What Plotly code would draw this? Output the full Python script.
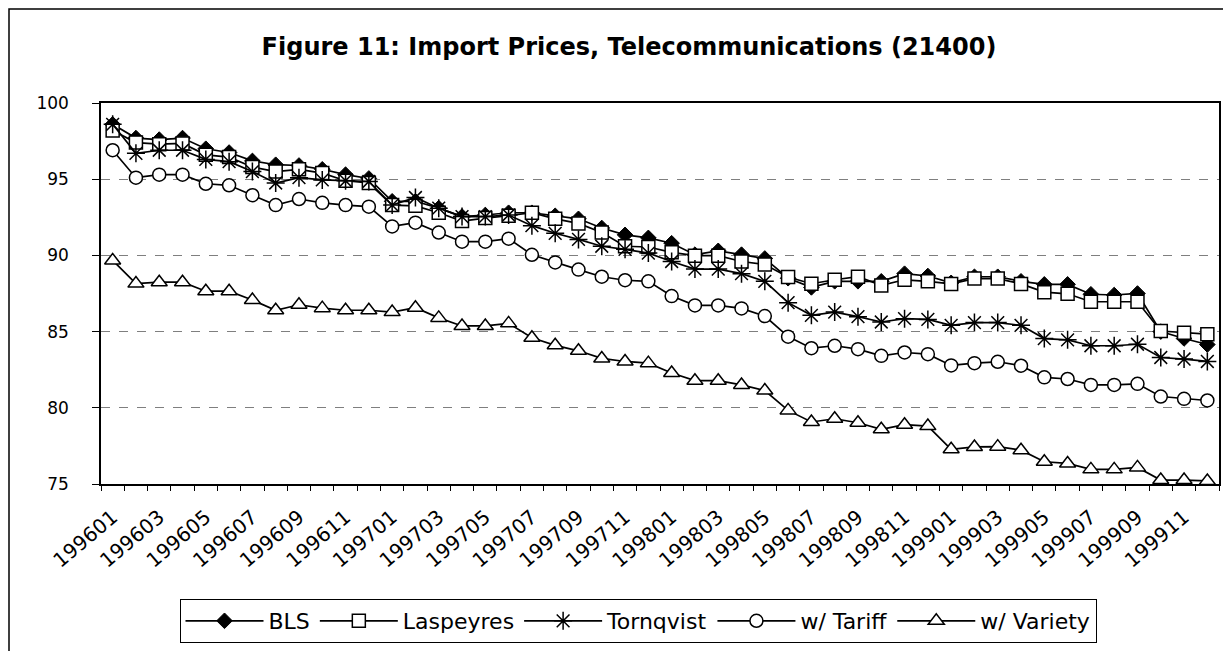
import plotly.graph_objects as go

months = ["199601","199602","199603","199604","199605","199606","199607","199608",
          "199609","199610","199611","199612","199701","199702","199703","199704",
          "199705","199706","199707","199708","199709","199710","199711","199712",
          "199801","199802","199803","199804","199805","199806","199807","199808",
          "199809","199810","199811","199812","199901","199902","199903","199904",
          "199905","199906","199907","199908","199909","199910","199911","199912"]

bls = [98.6, 97.7, 97.6, 97.7, 97.0, 96.75, 96.2, 95.95, 95.9, 95.65, 95.3, 95.05,
       93.55, 93.55, 93.1, 92.55, 92.65, 92.8, 92.8, 92.6, 92.4, 91.8, 91.35, 91.15,
       90.8, 90.05, 90.3, 90.05, 89.8, 88.5, 87.9, 88.3, 88.3, 88.3, 88.8, 88.65,
       88.2, 88.6, 88.6, 88.3, 88.1, 88.1, 87.45, 87.4, 87.5, 85.0, 84.55, 84.15]

laspeyres = [98.2, 97.4, 97.3, 97.35, 96.6, 96.45, 95.8, 95.5, 95.65, 95.4, 94.9, 94.75,
             93.3, 93.25, 92.8, 92.25, 92.45, 92.6, 92.8, 92.4, 92.1, 91.5, 90.6, 90.55,
             90.2, 89.98, 89.98, 89.6, 89.4, 88.58, 88.14, 88.4, 88.6, 88.03, 88.4, 88.3,
             88.13, 88.48, 88.48, 88.13, 87.59, 87.48, 86.96, 86.96, 86.96, 85.04, 84.93, 84.83]

tornqvist = [98.6, 96.7, 96.9, 96.9, 96.3, 96.15, 95.5, 94.75, 95.1, 94.95, 94.9, 94.85,
             93.3, 93.8, 93.1, 92.55, 92.55, 92.65, 91.95, 91.45, 91.05, 90.6, 90.4, 90.15,
             89.6, 89.1, 89.1, 88.8, 88.3, 86.9, 86.07, 86.28, 85.98, 85.63, 85.85, 85.8,
             85.41, 85.59, 85.59, 85.41, 84.54, 84.46, 84.07, 84.07, 84.17, 83.3, 83.2, 83.04]

tariff = [96.9, 95.1, 95.3, 95.3, 94.7, 94.6, 93.95, 93.3, 93.7, 93.45, 93.3, 93.2,
          91.9, 92.15, 91.5, 90.9, 90.9, 91.1, 90.04, 89.54, 89.07, 88.6, 88.37, 88.3,
          87.33, 86.72, 86.72, 86.52, 86.02, 84.67, 83.91, 84.07, 83.85, 83.41, 83.63, 83.52,
          82.78, 82.93, 83.02, 82.76, 82.0, 81.89, 81.5, 81.5, 81.57, 80.74, 80.59, 80.48]

variety = [89.67, 88.15, 88.24, 88.24, 87.65, 87.65, 87.07, 86.4, 86.76, 86.54, 86.4, 86.4,
           86.28, 86.57, 85.9, 85.37, 85.37, 85.54, 84.6, 84.1, 83.74, 83.24, 83.04, 82.93,
           82.28, 81.78, 81.78, 81.5, 81.13, 79.83, 79.07, 79.28, 79.02, 78.59, 78.89, 78.8,
           77.28, 77.43, 77.45, 77.22, 76.46, 76.35, 75.96, 75.96, 76.09, 75.26, 75.26, 75.2]

series = [
    ("BLS", bls, dict(symbol="diamond", size=12, color="black", line=dict(color="black", width=1))),
    ("Laspeyres", laspeyres, dict(symbol="square", size=13, color="white", line=dict(color="black", width=1.5))),
    ("Tornqvist", tornqvist, dict(symbol="asterisk-open", size=15, color="black", line=dict(color="black", width=1.5))),
    ("w/ Tariff", tariff, dict(symbol="circle", size=13, color="white", line=dict(color="black", width=1.5))),
    ("w/ Variety", variety, dict(symbol="triangle-up", size=14, color="white", line=dict(color="black", width=1.5))),
]

fig = go.Figure()
for name, vals, mk in series:
    fig.add_trace(go.Scatter(x=months, y=vals, name=name, mode="lines+markers",
                             line=dict(color="black", width=1.7), marker=mk))

# invisible trace to carry the tick-mark axis
fig.add_trace(go.Scatter(x=months, y=bls, xaxis="x2", mode="lines", opacity=0,
                         showlegend=False, hoverinfo="skip"))

# page body adds an 8px offset; figure is sized so the plot lands where the reference has it
OFF = 8
W, H = 1231 - OFF, 651 - OFF
L, R, T, B = 101 - OFF, 12, 103 - OFF, 167
pw = W - L - R
ph = H - T - B

FONT = "DejaVu Sans, Liberation Sans, Arial, sans-serif"

fig.update_layout(
    width=W, height=H,
    margin=dict(l=L, r=R, t=T, b=B, autoexpand=False),
    paper_bgcolor="white", plot_bgcolor="white",
    font=dict(family=FONT, color="black"),
    title=dict(text="<b>Figure 11: Import Prices, Telecommunications (21400)</b>",
               x=(629 - OFF) / W, xanchor="center", y=1 - (47 - OFF) / H, yanchor="middle",
               font=dict(size=24, color="black", family=FONT)),
    xaxis=dict(type="category", categoryorder="array", categoryarray=months,
               range=[-0.5, len(months) - 0.5], automargin=False,
               tickmode="array", tickvals=months[::2], ticktext=months[::2],
               tickangle=-40, ticks="", showgrid=False, zeroline=False,
               ticklabelstandoff=12,
               showline=True, linecolor="black", linewidth=1.5, mirror=True,
               tickfont=dict(size=20, family=FONT)),
    xaxis2=dict(type="category", categoryorder="array", categoryarray=months,
                range=[-0.5, len(months) - 0.5], overlaying="x", side="bottom",
                anchor="y", tickson="boundaries", dtick=1, ticks="outside",
                ticklen=6, tickcolor="black", tickwidth=1, showticklabels=False,
                showgrid=False, zeroline=False, showline=False, automargin=False),
    yaxis=dict(range=[75, 100], tickmode="array", tickvals=[75, 80, 85, 90, 95, 100],
               ticks="outside", ticklen=7, tickcolor="black", automargin=False,
               ticklabelstandoff=20,
               showgrid=True, gridcolor="#7f7f7f", griddash="dash", gridwidth=1,
               zeroline=False, showline=True, linecolor="black", linewidth=1.5,
               mirror=True, tickfont=dict(size=17, family=FONT)),
    legend=dict(orientation="h", x=(638 - 101) / pw, xanchor="center",
                y=(484 - 599) / ph, yanchor="top",
                bordercolor="black", borderwidth=1, bgcolor="white",
                font=dict(size=22, family=FONT), itemwidth=78, tracegroupgap=0),
    showlegend=True,
)

# outer chart frame
fig.add_shape(type="rect", xref="paper", yref="paper",
              x0=(1 - L) / pw, x1=(1228 - OFF - L) / pw,
              y0=(T + ph - (H + 5)) / ph, y1=(T + ph - 1) / ph,
              line=dict(color="black", width=1.5), fillcolor="rgba(0,0,0,0)", layer="below")

fig.write_html("out.html")
